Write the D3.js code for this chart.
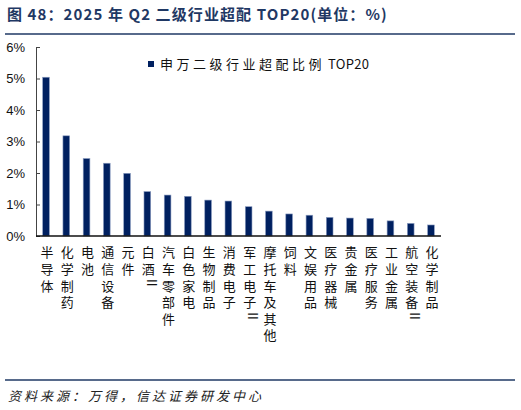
<!DOCTYPE html>
<html>
<head>
<meta charset="utf-8">
<script src="https://cdn.jsdelivr.net/npm/d3@7"></script>
<style>
  body { margin: 0; background: #fff; }
  svg { display: block; }
</style>
</head>
<body>
<div id="chart"></div>
<script>
// -DATA-
const industries = ["半导体", "化学制药", "电池", "通信设备", "元件", "白酒Ⅱ", "汽车零部件", "白色家电", "生物制品", "消费电子",
                    "军工电子Ⅱ", "摩托车及其他", "饲料", "文娱用品", "医疗器械", "贵金属", "医疗服务", "工业金属", "航空装备Ⅱ", "化学制品"];
const overweight = [5.04, 3.18, 2.46, 2.31, 1.99, 1.41, 1.30, 1.26, 1.14, 1.11,
                    0.93, 0.79, 0.70, 0.66, 0.59, 0.57, 0.56, 0.48, 0.40, 0.35];
const yTicks = [0, 1, 2, 3, 4, 5, 6];
const seriesName = "申万二级行业超配比例";
const seriesSuffix = "TOP20";
const titleText = "图 48：2025 年 Q2 二级行业超配 TOP20(单位：%)";
const sourceText = "资料来源：万得，信达证券研发中心";

// -SIZES-
const W = 521, H = 410;
const plot = { left: 36, right: 441, top: 47, bottom: 236 };
const navy = "#002060";
const cjk = "'Noto Sans CJK SC', 'Noto Sans', sans-serif";

const svg = d3.select("#chart")
    .append("svg")
    .attr("width", W)
    .attr("height", H);

// title + rules
svg.append("text")
    .attr("x", 7)
    .attr("y", 20)
    .attr("font-family", cjk)
    .attr("font-weight", "bold")
    .attr("font-size", 15)
    .attr("letter-spacing", 1.1)
    .attr("fill", "#1f3864")
    .text(titleText);

svg.append("line")
    .attr("x1", 5).attr("x2", 515)
    .attr("y1", 34).attr("y2", 34)
    .attr("stroke", "#1f3864")
    .attr("stroke-width", 1.6);

svg.append("line")
    .attr("x1", 5).attr("x2", 515)
    .attr("y1", 380).attr("y2", 380)
    .attr("stroke", "#1f3864")
    .attr("stroke-width", 1.6);

svg.append("text")
    .attr("x", 8)
    .attr("y", 401)
    .attr("font-family", cjk)
    .attr("font-size", 13)
    .attr("font-style", "italic")
    .attr("letter-spacing", 3.0)
    .attr("fill", "#222")
    .text(sourceText);

// -SCALES-
const x = d3.scaleBand()
    .domain(industries)
    .range([plot.left, plot.right])
    .paddingInner(0.67)
    .paddingOuter(0.33);

const y = d3.scaleLinear()
    .domain([0, 6])
    .range([plot.bottom, plot.top]);

// bars
svg.append("g")
    .selectAll("rect")
    .data(overweight)
    .enter()
    .append("rect")
    .attr("x", (d, i) => x(industries[i]))
    .attr("y", (d) => y(d))
    .attr("width", x.bandwidth())
    .attr("height", (d) => y(0) - y(d))
    .attr("fill", navy)
    .attr("stroke", "#8a9cc0")
    .attr("stroke-width", 0.6);

// y axis, ticks pointing inward
const yAxis = svg.append("g")
    .attr("transform", "translate(" + plot.left + ",0)")
    .call(d3.axisRight(y).tickValues(yTicks).tickSize(4).tickFormat(""));
yAxis.select(".domain").attr("stroke", "#444").attr("stroke-width", 1);
yAxis.selectAll(".tick line").attr("stroke", "#444");

svg.append("g")
    .selectAll("text")
    .data(yTicks)
    .enter()
    .append("text")
    .attr("x", 25)
    .attr("y", (d) => y(d))
    .attr("dy", "0.36em")
    .attr("text-anchor", "end")
    .attr("font-family", "'Liberation Sans', Arial, sans-serif")
    .attr("font-size", 13)
    .attr("fill", "#111")
    .text((d) => d + "%");

// x axis line
svg.append("line")
    .attr("x1", plot.left).attr("x2", plot.right)
    .attr("y1", y(0)).attr("y2", y(0))
    .attr("stroke", "#111")
    .attr("stroke-width", 1.5);

// vertical category labels, one glyph per text; Ⅱ laid sideways like the original
const charStep = 16.6;
const labels = svg.append("g")
    .selectAll("g")
    .data(industries)
    .enter()
    .append("g")
    .attr("transform", (d) => "translate(" + (x(d) + x.bandwidth() / 2 + 1) + ",246)");

labels.selectAll("text")
    .data((d) => d.split(""))
    .enter()
    .append("text")
    .attr("x", (c) => c === "Ⅱ" ? -1.5 : 0)
    .attr("y", (c, i) => c === "Ⅱ" ? i * charStep - 3 : i * charStep)
    .style("writing-mode", "vertical-rl")
    .style("text-orientation", (c) => c === "Ⅱ" ? "sideways" : "mixed")
    .attr("font-family", cjk)
    .attr("font-size", 13)
    .attr("fill", "#111")
    .text((c) => c);

// legend
svg.append("rect")
    .attr("x", 148)
    .attr("y", 61)
    .attr("width", 6)
    .attr("height", 6)
    .attr("fill", navy);

const legendText = svg.append("text")
    .attr("x", 160)
    .attr("y", 64)
    .attr("dy", "0.36em")
    .attr("font-family", cjk)
    .attr("font-size", 13)
    .attr("fill", "#111");
legendText.append("tspan")
    .attr("letter-spacing", 3.5)
    .text(seriesName);
legendText.append("tspan")
    .attr("dx", 3)
    .attr("letter-spacing", 0.3)
    .text(seriesSuffix);
</script>
</body>
</html>
